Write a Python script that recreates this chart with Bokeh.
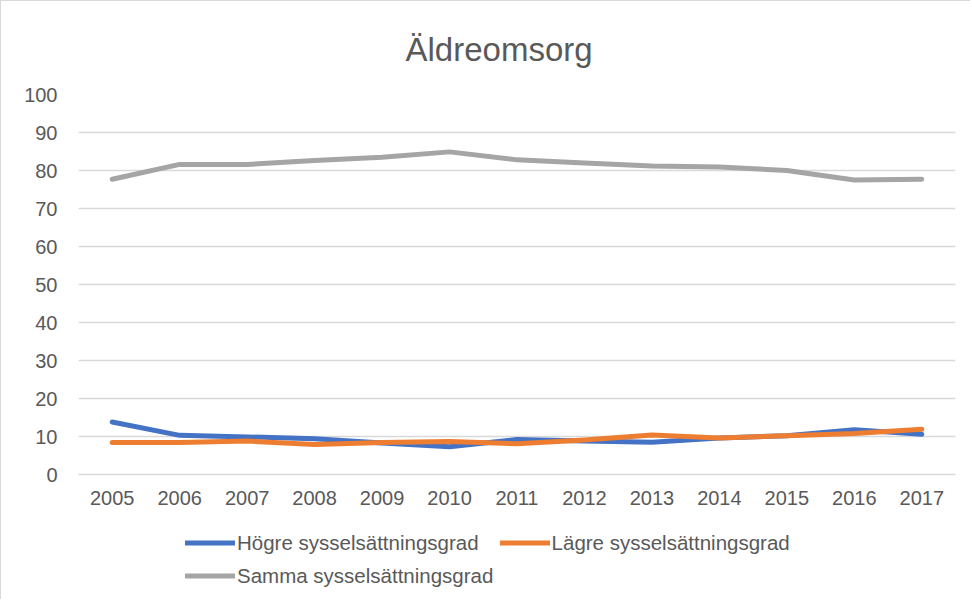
from bokeh.plotting import figure
from bokeh.models import Legend, LegendItem, FixedTicker, ColumnDataSource, Range1d, FactorRange
from bokeh.layouts import column
from bokeh.embed import file_html
from bokeh.resources import INLINE

years = ["2005", "2006", "2007", "2008", "2009", "2010", "2011",
         "2012", "2013", "2014", "2015", "2016", "2017"]
hogre = [13.8, 10.3, 9.9, 9.4, 8.3, 7.3, 9.2, 8.8, 8.5, 9.6, 10.2, 11.8, 10.6]
lagre = [8.4, 8.4, 8.8, 7.9, 8.4, 8.7, 8.1, 9.1, 10.4, 9.6, 10.2, 10.8, 11.9]
samma = [77.7, 81.6, 81.6, 82.6, 83.5, 84.9, 82.8, 82.0, 81.2, 80.9, 80.0, 77.5, 77.7]
y_ticks = list(range(0, 101, 10))
labels = ["Högre sysselsättningsgrad", "Lägre sysselsättningsgrad", "Samma sysselsättningsgrad"]
colors = ["#4472C4", "#ED7D31", "#A5A5A5"]

FONT = "Liberation Sans"
TXT = "#595959"
BORDER = "1px solid #d9d9d9"

p = figure(width=970, height=523, x_range=years, y_range=(0, 100),
           output_backend="svg", toolbar_location=None,
           min_border_left=77, min_border_right=16,
           min_border_top=91, min_border_bottom=50)
p.x_range.range_padding = 0
p.outline_line_color = None
p.styles = {"border-top": BORDER, "border-left": BORDER}

p.title.text = "Äldreomsorg"
p.title.text_font = FONT
p.title.text_font_size = "33px"
p.title.text_font_style = "normal"
p.title.text_color = TXT
p.title.align = "left"
p.title.offset = 327
p.title.standoff = 54

src = ColumnDataSource(dict(x=years, h=hogre, l=lagre, s=samma))
for col, c in zip(["h", "l", "s"], colors):
    p.line("x", col, source=src, line_color=c, line_width=5,
           line_cap="round", line_join="round")

p.yaxis.ticker = FixedTicker(ticks=y_ticks)
p.yaxis.axis_line_color = None
p.yaxis.major_tick_line_color = None
p.yaxis.minor_tick_line_color = None
p.yaxis.major_label_standoff = 15
p.yaxis.major_label_text_font = FONT
p.yaxis.major_label_text_font_size = "20px"
p.yaxis.major_label_text_color = TXT

p.xaxis.axis_line_color = "#d9d9d9"
p.xaxis.axis_line_width = 1.5
p.xaxis.major_tick_line_color = None
p.xaxis.minor_tick_line_color = None
p.xaxis.major_label_standoff = 10
p.xaxis.major_label_text_font = FONT
p.xaxis.major_label_text_font_size = "20px"
p.xaxis.major_label_text_color = TXT

p.xgrid.grid_line_color = None
p.ygrid.grid_line_color = "#d9d9d9"
p.ygrid.grid_line_width = 1.5

# legend strip below the chart (same series, view range set so that only the legend shows)
lf = figure(width=970, height=76, x_range=FactorRange(*years), y_range=Range1d(200, 300),
            output_backend="svg", toolbar_location=None,
            min_border_left=0, min_border_right=0, min_border_top=0, min_border_bottom=0)
lf.axis.visible = False
lf.grid.grid_line_color = None
lf.outline_line_color = None
lf.styles = {"border-left": BORDER}
lrs = [lf.line("x", col, source=src, line_color=c, line_width=5, line_cap="round")
       for col, c in zip(["h", "l", "s"], colors)]
items = [LegendItem(label=lab, renderers=[r]) for lab, r in zip(labels, lrs)]
common = dict(orientation="horizontal", glyph_width=50, glyph_height=25,
              label_standoff=2, spacing=21, padding=0, margin=0,
              border_line_color=None, background_fill_alpha=0,
              label_text_font=FONT, label_text_font_size="20.5px",
              label_text_color=TXT, label_height=25)
leg1 = Legend(items=items[:2], location=(107, 44), **common)
leg2 = Legend(items=items[2:], location=(107, 11), **common)
lf.add_layout(leg1, "center")
lf.add_layout(leg2, "center")

layout = column(p, lf, spacing=0)
open("out.html", "w").write(file_html(layout, INLINE))
